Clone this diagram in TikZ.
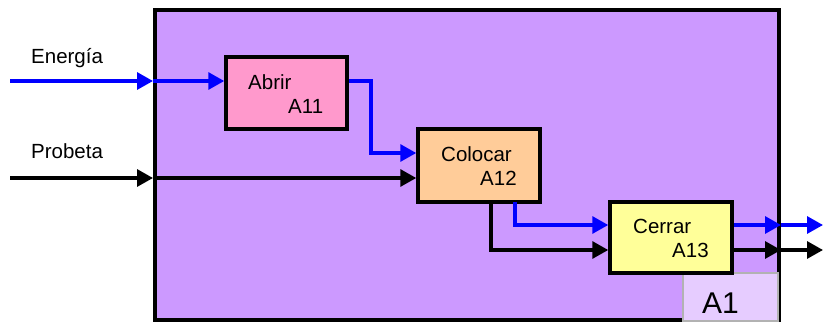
\documentclass[tikz,border=0pt]{standalone}
\usepackage{fontspec}
\setmainfont{Liberation Sans}
\usetikzlibrary{arrows.meta}
\definecolor{framefill}{HTML}{CC99FF}
\definecolor{abrirfill}{HTML}{FF99CC}
\definecolor{colocarfill}{HTML}{FFCC99}
\definecolor{cerrarfill}{HTML}{FFFF99}
\definecolor{labelfill}{HTML}{E6CCFF}
\definecolor{flowblue}{HTML}{0000FF}
\tikzset{
  actbox/.style={draw=black, line width=3.5pt, inner sep=0pt},
  flow/.style={line width=3.2pt, -{Triangle[length=16pt,width=17pt]}},
  bflow/.style={flow, draw=flowblue},
  kflow/.style={flow, draw=black},
  txt/.style={inner sep=0pt, anchor=base west, font=\fontsize{20.5}{24}\selectfont},
}
\begin{document}
\begin{tikzpicture}[x=1pt,y=-1pt]
\useasboundingbox (0,0) rectangle (823,322);
% frame
\node[actbox, line width=4pt, fill=framefill, minimum width=624pt, minimum height=310pt] (frame) at (467,165) {};
% A1 label box
\node[fill=labelfill, draw=gray!60, line width=1.5pt, minimum width=95pt, minimum height=48pt, inner sep=0pt] (a1) at (730.5,297) {};
\node[txt, font=\fontsize{30}{34}\selectfont] (a1t) at (702,313) {A1};
% activity boxes
\node[actbox, fill=abrirfill, minimum width=121pt, minimum height=72pt] (abrir) at (286.5,93) {};
\node[actbox, fill=colocarfill, minimum width=122pt, minimum height=73pt] (colocar) at (479,165.5) {};
\node[actbox, fill=cerrarfill, minimum width=122pt, minimum height=71pt] (cerrar) at (671,237.5) {};
% texts
\node[txt] (abrirt) at (248,89) {Abrir};
\node[txt] (abrirn) at (288,113) {A11};
\node[txt] (colocart) at (441,161) {Colocar};
\node[txt] (colocarn) at (480,185) {A12};
\node[txt] (cerrart) at (633,233) {Cerrar};
\node[txt] (cerrarn) at (672,257) {A13};
\node[txt] (energia) at (31,63) {Energía};
\node[txt] (probeta) at (31,158) {Probeta};
% coordinates
\coordinate (ein) at (10,81);
\coordinate (pin) at (10,178);
\coordinate (ab1) at (371,81);
\coordinate (ab2) at (371,153);
\coordinate (cb1) at (515,202);
\coordinate (cb2) at (515,225);
\coordinate (ck1) at (491,202);
\coordinate (ck2) at (491,250);
\coordinate (bout) at (823,225);
\coordinate (kout) at (823,250);
% connectors
\draw[bflow] (ein) -- (frame.west |- ein);
\draw[bflow] (frame.west |- ein) -- (abrir.west |- ein);
\draw[kflow] (pin) -- (frame.west |- pin);
\draw[kflow] (frame.west |- pin) -- (colocar.west |- pin);
\draw[bflow] (abrir.east |- ab1) -- (ab1) -- (ab2) -- (colocar.west |- ab2);
\draw[bflow] (cb1) -- (cb2) -- (cerrar.west |- cb2);
\draw[kflow] (ck1) -- (ck2) -- (cerrar.west |- ck2);
\draw[bflow] (cerrar.east |- bout) -- (frame.east |- bout);
\draw[bflow] (frame.east |- bout) -- (bout);
\draw[kflow] (cerrar.east |- kout) -- (frame.east |- kout);
\draw[kflow] (frame.east |- kout) -- (kout);
\end{tikzpicture}
\end{document}
